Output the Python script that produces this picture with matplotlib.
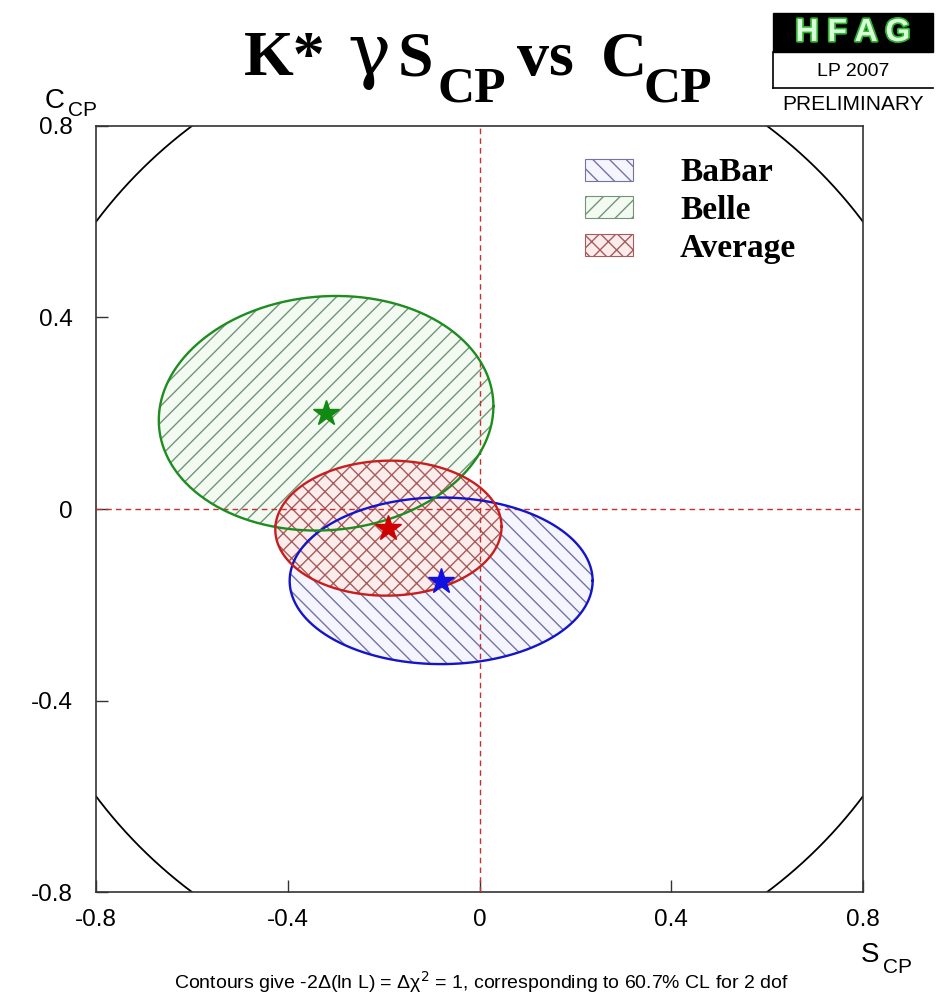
import numpy as np
import matplotlib.pyplot as plt
from matplotlib.patches import Patch, Rectangle
from matplotlib.lines import Line2D
import matplotlib.patheffects as pe

# measurements: S_CP, C_CP, errors and correlation
names = ['BaBar', 'Belle', 'Average']
s_cp = [-0.08, -0.32, -0.19]
c_cp = [-0.15, 0.20, -0.04]
s_err = [0.316, 0.349, 0.236]
c_err = [0.174, 0.245, 0.141]
rho = [0.0, 0.06, 0.02]

line_col = ['#1414c8', '#1e8c1e', '#c81e1e']
star_col = ['#1010e0', '#108a10', '#d00000']
fill_col = ['#f5f5ff', '#f2faf2', '#fdecec']
hatch_col = ['#7474a2', '#74947a', '#a65c5c']
hatches = ['\\\\', '//', 'xx']

ticks = [-0.8, -0.4, 0, 0.4, 0.8]
tick_labels = ['-0.8', '-0.4', '0', '0.4', '0.8']

W, H = 942, 996
plt.rcParams['hatch.linewidth'] = 1.0


def px(x, y):
    return x / W, 1 - y / H


def contour(s, c, es, ec, r, n=400):
    # delta chi2 = 1 ellipse
    t = np.linspace(0, 2 * np.pi, n)
    x = s + es * np.cos(t)
    y = c + ec * (r * np.cos(t) + np.sqrt(1 - r * r) * np.sin(t))
    return x, y


fig = plt.figure(figsize=(W / 100, H / 100), dpi=100)
ax = fig.add_axes([96 / W, (H - 892) / H, (863 - 96) / W, (892 - 126) / H])
ax.set_xlim(-0.8, 0.8)
ax.set_ylim(-0.8, 0.8)

# physical boundary S^2 + C^2 = 1
t = np.linspace(0, 2 * np.pi, 600)
ax.plot(np.cos(t), np.sin(t), color='black', lw=1.3, zorder=1)

curves = [contour(s_cp[i], c_cp[i], s_err[i], c_err[i], rho[i]) for i in range(3)]
for i, (x, y) in enumerate(curves):
    ax.fill(x, y, facecolor=fill_col[i], edgecolor=hatch_col[i],
            hatch=hatches[i], linewidth=0, zorder=2 + i * 0.1)

ax.axhline(0, color='#c83030', lw=1.0, ls=(0, (4, 3)), zorder=3)
ax.axvline(0, color='#c83030', lw=1.0, ls=(0, (4, 3)), zorder=3)

for i, (x, y) in enumerate(curves):
    ax.plot(x, y, color=line_col[i], lw=1.7, zorder=4)
for i in range(3):
    ax.plot(s_cp[i], c_cp[i], marker='*', ms=19, color=star_col[i],
            mec=star_col[i], ls='none', zorder=5)

ax.set_xticks(ticks)
ax.set_xticklabels(tick_labels)
ax.set_yticks(ticks)
ax.set_yticklabels(tick_labels)
ax.tick_params(direction='in', length=8.5, width=1.0, color='#333333',
               labelsize=17.5, top=False, right=False)
ax.tick_params(axis='x', pad=12)
ax.tick_params(axis='y', pad=17)
for lab in ax.get_xticklabels() + ax.get_yticklabels():
    lab.set_family('Liberation Sans')
for sp in ax.spines.values():
    sp.set_color('#333333')
    sp.set_linewidth(1.2)

handles = [Patch(facecolor=fill_col[i], edgecolor=hatch_col[i],
                 hatch=hatches[i], lw=0.8) for i in range(3)]
ax.legend(handles, names, loc='upper left', bbox_to_anchor=(0.6375, 0.959),
          frameon=False, prop=dict(family='Liberation Serif', weight='bold', size=24),
          handlelength=1.45, handleheight=0.65, handletextpad=1.4,
          labelspacing=0.2, borderaxespad=0, borderpad=0)

# axis labels
fig.text(*px(45, 108), 'C', family='Liberation Sans', fontsize=20, va='baseline')
fig.text(*px(68, 116), 'CP', family='Liberation Sans', fontsize=15, va='baseline')
fig.text(*px(861, 962), 'S', family='Liberation Sans', fontsize=20, va='baseline')
fig.text(*px(883, 973), 'CP', family='Liberation Sans', fontsize=15, va='baseline')

# title
tfont = dict(family='Liberation Serif', weight='bold', va='baseline')
fig.text(*px(244, 75), 'K*', fontsize=46, **tfont)
fig.text(*px(347, 75), 'γ', fontsize=52, family='DejaVu Serif', va='baseline')
fig.text(*px(398, 75), 'S', fontsize=46, **tfont)
fig.text(*px(438, 102), 'CP', fontsize=37, **tfont)
fig.text(*px(517, 75), 'vs', fontsize=46, **tfont)
fig.text(*px(601, 75), 'C', fontsize=46, **tfont)
fig.text(*px(643, 102), 'CP', fontsize=37, **tfont)

# HFAG logo
fig.add_artist(Rectangle(px(773, 52), 160 / W, 39 / H, transform=fig.transFigure,
                         facecolor='black', edgecolor='black'))
fig.add_artist(Line2D([773 / W, 773 / W], [1 - 52 / H, 1 - 88 / H],
                      transform=fig.transFigure, color='black', lw=1.2))
fig.add_artist(Line2D([773 / W, 933 / W], [1 - 88 / H, 1 - 88 / H],
                      transform=fig.transFigure, color='black', lw=1.2))
fig.text(*px(853, 33), 'H F A G', fontsize=23, family='Liberation Sans',
         weight='bold', color='#d8ffd8', ha='center', va='center',
         path_effects=[pe.withStroke(linewidth=2.5, foreground='#30b030')])
fig.text(*px(853, 72), 'LP 2007', fontsize=14, family='Liberation Sans',
         ha='center', va='center')
fig.text(*px(853, 104), 'PRELIMINARY', fontsize=15, family='Liberation Sans',
         ha='center', va='center')

fig.text(*px(481, 982), 'Contours give -2Δ(ln L) = Δχ$^2$ = 1, corresponding to 60.7% CL for 2 dof',
         family='Liberation Sans', fontsize=14, ha='center', va='center')

fig.savefig('out.png', dpi=100)
